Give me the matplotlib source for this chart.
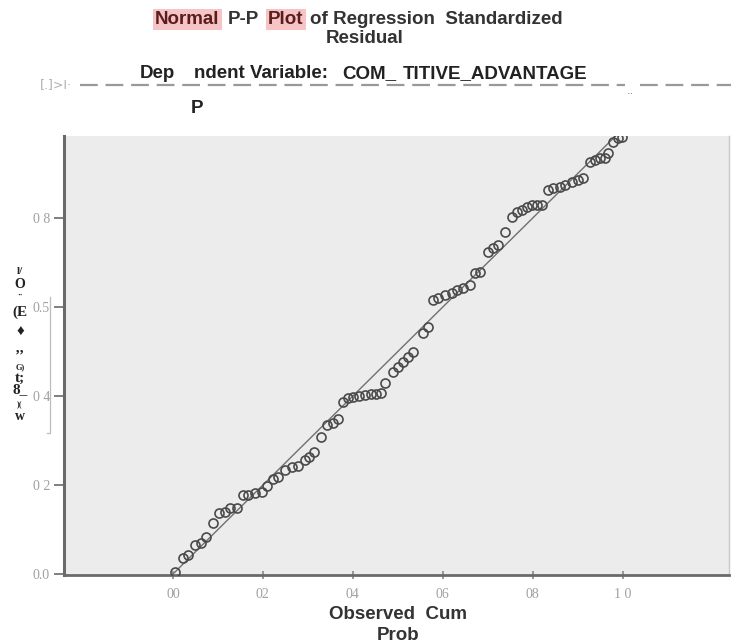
import matplotlib.pyplot as plt
from matplotlib.lines import Line2D

# observed vs expected cumulative probability
obs_cum = [0.004, 0.022, 0.033, 0.049, 0.062, 0.073, 0.089, 0.102, 0.116, 0.127,
           0.142, 0.156, 0.167, 0.182, 0.198, 0.209, 0.222, 0.233, 0.249, 0.264,
           0.278, 0.293, 0.302, 0.313, 0.329, 0.342, 0.356, 0.367, 0.378, 0.389,
           0.400, 0.413, 0.427, 0.440, 0.451, 0.462, 0.471, 0.489, 0.500, 0.511,
           0.522, 0.533, 0.556, 0.567, 0.578, 0.589, 0.604, 0.620, 0.631, 0.644,
           0.660, 0.671, 0.682, 0.700, 0.711, 0.722, 0.738, 0.753, 0.764, 0.776,
           0.787, 0.798, 0.809, 0.820, 0.833, 0.844, 0.860, 0.871, 0.887, 0.900,
           0.911, 0.927, 0.938, 0.949, 0.960, 0.967, 0.978, 0.989, 0.998]
exp_cum = [0.004, 0.036, 0.043, 0.065, 0.070, 0.083, 0.115, 0.137, 0.139, 0.148,
           0.148, 0.178, 0.178, 0.182, 0.184, 0.198, 0.213, 0.218, 0.234, 0.240,
           0.243, 0.256, 0.263, 0.274, 0.308, 0.335, 0.339, 0.348, 0.387, 0.396,
           0.398, 0.400, 0.402, 0.404, 0.404, 0.407, 0.429, 0.454, 0.465, 0.476,
           0.488, 0.499, 0.542, 0.555, 0.616, 0.620, 0.627, 0.631, 0.638, 0.643,
           0.649, 0.676, 0.679, 0.724, 0.733, 0.739, 0.769, 0.802, 0.813, 0.818,
           0.825, 0.829, 0.829, 0.829, 0.863, 0.867, 0.870, 0.874, 0.881, 0.885,
           0.890, 0.926, 0.930, 0.935, 0.935, 0.946, 0.971, 0.980, 0.982]

ref_line = [0.0, 1.0]

x_ticks = [0.0, 0.2, 0.4, 0.6, 0.8, 1.0]
x_tick_labels = ['00', '02', '04', '06', '08', '1 0']
y_ticks = [0.0, 0.2, 0.4, 0.6, 0.8]
y_tick_labels = ['0.0', '0 2', '0 4', '0.5', '0 8']

title_words = ['Normal', 'P-P', 'Plot', 'of Regression  Standardized']
title_line2 = 'Residual'
subtitle_parts = ['Dep', 'ndent Variable:', 'COM_', 'TITIVE_ADVANTAGE']
xlabel_lines = ['Observed  Cum', 'Prob']
ylabel_glyphs = ['l/', 'O', '··', '(E', '\u2666', '\u2019\u2019', 'G)', 't;', '8_', ')(', 'w']

W, H = 731, 644
fig = plt.figure(figsize=(W / 100, H / 100), dpi=100)


def ptext(x, y, s, **kw):
    return fig.text(x / W, 1 - y / H, s, **kw)


ax = fig.add_axes([64 / W, 69 / H, (729 - 64) / W, (575 - 136) / H])
ax.set_facecolor('#ececec')
ax.plot(ref_line, ref_line, color='#707070', lw=1.0, zorder=2)
ax.plot(obs_cum, exp_cum, 'o', mfc='none', mec='#4a4a4a', mew=1.2, ms=6.5, zorder=3)
ax.set_xlim(-0.242, 1.236)
ax.set_ylim(-0.002, 0.984)

ax.spines['top'].set_visible(False)
ax.spines['right'].set_color('#c8c8c8')
ax.spines['right'].set_linewidth(1.0)
ax.spines['left'].set_color('#6a6a6a')
ax.spines['left'].set_linewidth(2.2)
ax.spines['bottom'].set_color('#6a6a6a')
ax.spines['bottom'].set_linewidth(2.0)

ax.set_xticks(x_ticks)
ax.set_xticklabels(x_tick_labels, family='Liberation Serif', fontsize=10, color='#a0a0a0')
ax.set_yticks(y_ticks)
ax.set_yticklabels(y_tick_labels, family='Liberation Serif', fontsize=10, color='#a0a0a0')
ax.tick_params(axis='x', direction='inout', length=6, width=1.2, color='#888888', pad=6)
ax.tick_params(axis='y', direction='out', length=7, width=1.2, color='#6a6a6a', pad=3)

# title with highlighted words
bold = dict(family='Liberation Sans', fontweight='bold', fontsize=13.5, va='baseline')
hl = dict(facecolor='#f6c4c4', edgecolor='none', pad=1.5)
ptext(155, 24, title_words[0], color='#5a1c1c', bbox=hl, **bold)
ptext(228, 24, title_words[1], color='#333333', **bold)
ptext(268, 24, title_words[2], color='#5a1c1c', bbox=hl, **bold)
ptext(310, 24, title_words[3], color='#333333', **bold)
ptext(365, 43, title_line2, color='#333333', ha='center', **bold)

# dependent variable line (damaged scan)
for x, s in zip([140, 194, 342, 403], subtitle_parts):
    ptext(x, 78, s, color='#222222', **bold)
fig.add_artist(Line2D([80 / W, 625 / W], [1 - 85 / H] * 2, transform=fig.transFigure,
                      color='#999999', lw=1.6, dashes=(8, 3.5)))
fig.add_artist(Line2D([640 / W, 1.0], [1 - 85 / H] * 2, transform=fig.transFigure,
                      color='#999999', lw=1.6, dashes=(8, 3.5)))
ptext(40, 85, '[.]>I·', color='#b0b0b0', family='DejaVu Sans', fontsize=9, va='center')
ptext(630, 91, '..', color='#777777', fontsize=8, va='center', ha='center')
ptext(191, 113, 'P', color='#222222', **bold)

# faint bracket beside the y axis
fig.add_artist(Line2D([50 / W, 50 / W, 47 / W], [1 - 297 / H, 1 - 433 / H, 1 - 433 / H],
                      transform=fig.transFigure, color='#bdbdbd', lw=0.9))

# garbled y-axis label
glyph_y = [272, 285, 295, 312, 332, 356, 367, 378, 390, 405, 417]
glyph_size = [8, 10, 6, 11, 11, 11, 6, 11, 11, 6, 10]
for y, s, fs in zip(glyph_y, ylabel_glyphs, glyph_size):
    ptext(20, y, s, family='Liberation Serif', fontweight='bold', fontsize=fs,
          color='#222222', ha='center', va='center')

# x-axis label
ptext(398, 619, xlabel_lines[0], color='#333333', ha='center', **bold)
ptext(398, 640, xlabel_lines[1], color='#333333', ha='center', **bold)

fig.savefig('out.png', dpi=100)
